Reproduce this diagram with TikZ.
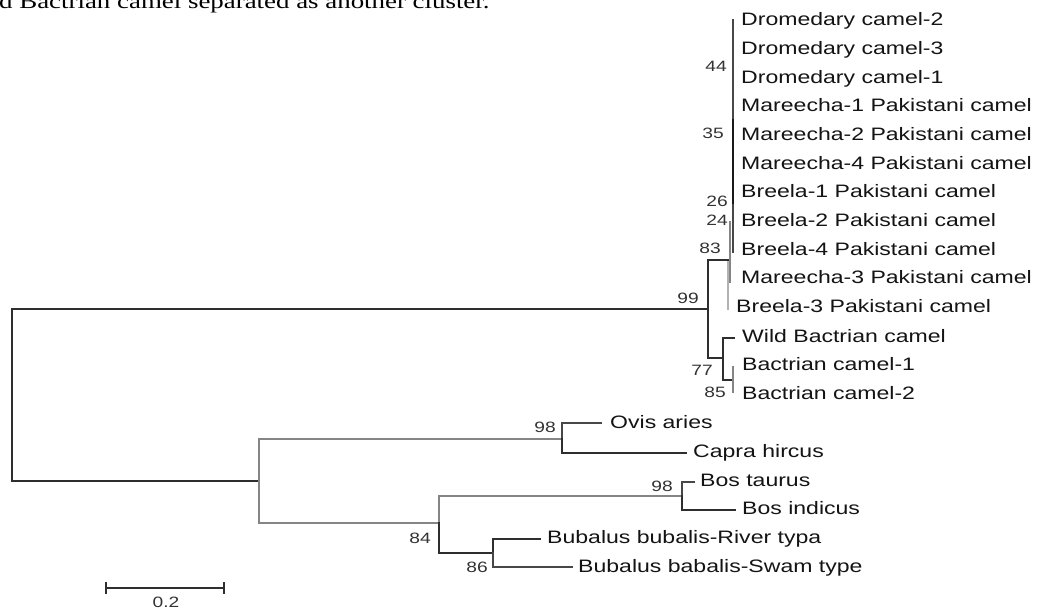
\documentclass[tikz,border=0pt]{standalone}
\usepackage{fontspec}
\setmainfont{Liberation Serif}
\newfontfamily\lab[FakeStretch=1.28]{Liberation Sans}
\newfontfamily\capfont[FakeStretch=1.28]{Liberation Serif}
\begin{document}
\begin{tikzpicture}[x=1pt,y=-1pt,line cap=rect,
 taxon/.style={anchor=base west,inner sep=0pt,font=\lab\fontsize{18}{18}\selectfont,text=black!92},
 boot/.style={anchor=base east,inner sep=0pt,font=\lab\fontsize{15}{15}\selectfont,text=black!80},
 br/.style={line width=1.8pt,draw=black!82},
 brt/.style={line width=1.2pt,draw=black!72},
 brg/.style={line width=1.5pt,draw=black!48},
]
\useasboundingbox (0,0) rectangle (1040,610);
\clip (0,0) rectangle (1040,610);
\fill[white] (0,0) rectangle (1040,610);

% caption fragment
\node[anchor=base west,inner sep=0pt,font=\capfont\fontsize{21}{21}\selectfont] (cap) at (-1,9) {d Bactrian camel separated as another cluster.};

% taxa
\node[taxon] (dc2) at (741,25.5) {Dromedary camel-2};
\node[taxon] (dc3) at (741,54.5) {Dromedary camel-3};
\node[taxon] (dc1) at (741,83.5) {Dromedary camel-1};
\node[taxon] (m1) at (741,111.5) {Mareecha-1 Pakistani camel};
\node[taxon] (m2) at (741,140.5) {Mareecha-2 Pakistani camel};
\node[taxon] (m4) at (741,169.5) {Mareecha-4 Pakistani camel};
\node[taxon] (b1) at (741,197.5) {Breela-1 Pakistani camel};
\node[taxon] (b2) at (741,226.5) {Breela-2 Pakistani camel};
\node[taxon] (b4) at (741,255.5) {Breela-4 Pakistani camel};
\node[taxon] (m3) at (741,283.5) {Mareecha-3 Pakistani camel};
\node[taxon] (b3) at (736,312.5) {Breela-3 Pakistani camel};
\node[taxon] (wild) at (742,342.5) {Wild Bactrian camel};
\node[taxon] (bc1) at (742,370.5) {Bactrian camel-1};
\node[taxon] (bc2) at (742,399.5) {Bactrian camel-2};
\node[taxon] (ovis) at (610,428.5) {Ovis aries};
\node[taxon] (capra) at (693,457.5) {Capra hircus};
\node[taxon] (bost) at (700,486.5) {Bos taurus};
\node[taxon] (bosi) at (742,514.5) {Bos indicus};
\node[taxon] (river) at (547,543.5) {Bubalus bubalis-River typa};
\node[taxon] (swam) at (578,572.5) {Bubalus babalis-Swam type};

% bootstrap values
\node[boot] (v44) at (727,71.5) {44};
\node[boot] (v35) at (724,138.5) {35};
\node[boot] (v26) at (728,206) {26};
\node[boot] (v24) at (728,225) {24};
\node[boot] (v83) at (721,253.5) {83};
\node[boot] (v99) at (699,303) {99};
\node[boot] (v77) at (713,375.5) {77};
\node[boot] (v85) at (726,397.5) {85};
\node[boot] (v98a) at (556,432.5) {98};
\node[boot] (v98b) at (673,491.5) {98};
\node[boot] (v84) at (431,543.5) {84};
\node[boot] (v86) at (488,572.5) {86};

% internal nodes and tips
\coordinate (root) at (12,395);
\coordinate (n99) at (708,309);
\coordinate (nrum) at (259,481);
\coordinate (n83) at (729,260);
\coordinate (n77) at (723,358);
\coordinate (t-wild) at (734,338);
\coordinate (n85) at (733,380);
\coordinate (t-bc1) at (733,367);
\coordinate (t-bc2) at (733,392);
\coordinate (t-dc2) at (733,20);
\coordinate (n35) at (733,120);
\coordinate (n26) at (733,205);
\coordinate (n24) at (733,252);
\coordinate (m3a) at (730,222);
\coordinate (m3b) at (730,282);
\coordinate (b3a) at (728,262);
\coordinate (b3b) at (728,309);
\coordinate (novis) at (562,439);
\coordinate (n84) at (439,523);
\coordinate (t-ovis) at (601,423);
\coordinate (t-capra) at (686,453);
\coordinate (nbos) at (682,496);
\coordinate (n86) at (493,553);
\coordinate (t-bost) at (694,482);
\coordinate (t-bosi) at (735,510);
\coordinate (t-river) at (540,539);
\coordinate (t-swam) at (572,567);

% branches
\draw[br] (root) |- (n99);
\draw[br] (root) |- (nrum);
\draw[br] (n99) |- (n83);
\draw[br] (n99) |- (n77);
\draw[br] (n77) |- (t-wild);
\draw[br] (n77) |- (n85);
\draw[brg] (t-bc1) -- (t-bc2);
\draw[brt] (t-dc2) -- (n35);
\draw[line width=2.4pt,draw=black!90] (n35) -- (n26);
\draw[brt] (n26) -- (n24);
\draw[brg] (m3a) -- (m3b);
\draw[brg,draw=black!30] (b3a) -- (b3b);
\draw[brg] (nrum) |- (novis);
\draw[brg] (nrum) |- (n84);
\draw[brt] (novis) |- (t-ovis);
\draw[br] (novis) |- (t-capra);
\draw[brg] (n84) |- (nbos);
\draw[br] (n84) |- (n86);
\draw[brt] (nbos) |- (t-bost);
\draw[br] (nbos) |- (t-bosi);
\draw[br] (n86) |- (t-river);
\draw[brt] (n86) |- (t-swam);

% scale bar
\coordinate (sb-l) at (106,588);
\coordinate (sb-r) at (224,588);
\draw[br] (sb-l) -- (sb-r);
\draw[br] (sb-l) ++(0,-5) -- ++(0,10);
\draw[br] (sb-r) ++(0,-5) -- ++(0,10);
\node[boot,anchor=base] (sbl) at (166,607) {0.2};
\end{tikzpicture}
\end{document}
